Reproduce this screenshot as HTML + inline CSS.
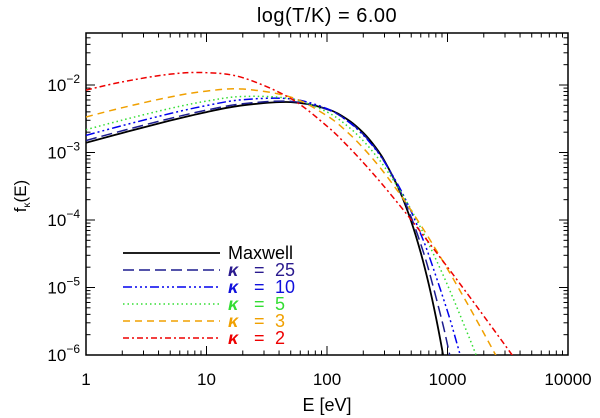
<!DOCTYPE html>
<html><head><meta charset="utf-8"><style>
html,body{margin:0;padding:0;background:#fff;}
svg{display:block;font-family:"Liberation Sans",sans-serif;}
</style></head><body>
<svg id="chart" width="600" height="418" viewBox="0 0 600 418" xmlns="http://www.w3.org/2000/svg">
<text x="327" y="22" font-size="20" text-anchor="middle" letter-spacing="0.5">log(T/K) = 6.00</text>
<text transform="translate(26,196) rotate(-90)" font-size="17" text-anchor="middle">f<tspan font-size="10" dy="4">κ</tspan><tspan dy="-4">(E)</tspan></text>
<text x="327" y="411" font-size="18" text-anchor="middle">E [eV]</text>
<g id="axes"></g>
<g id="series"></g>
<g id="legend"></g>
</svg>
<script>
const xTickLabels = ["1","10","100","1000","10000"];
const yTickExps = [-6,-5,-4,-3,-2];
const energies = {
  maxwell: [1,2,5,10,20,50,100,150,200,250,300,400,500,600,700,800,900,1000],
  k25: [1,2,5,10,20,50,100,150,200,250,300,400,500,600,700,900,1000,1100],
  k10: [1,2,5,10,20,50,100,150,200,250,300,400,500,600,700,1000,1200,1300],
  k5: [1,2,5,10,20,50,100,150,200,250,300,400,500,600,700,1000,1500,1800],
  k3: [1,2,5,10,20,50,100,150,200,250,300,400,500,600,700,1000,1500,2000,2500,3000],
  k2: [1,2,5,10,20,50,100,150,200,250,300,400,500,600,700,1000,1500,2000,3000,4000]
};
const fMaxwell = [1.394e-3,1.948e-3,2.975e-3,3.97e-3,5.0e-3,5.58e-3,4.42e-3,3.03e-3,1.958e-3,1.225e-3,7.51e-4,2.72e-4,9.53e-5,3.27e-5,1.105e-5,3.70e-6,1.235e-6,4.06e-7];
const fK25 = [1.504e-3,2.100e-3,3.196e-3,4.24e-3,5.28e-3,5.72e-3,4.35e-3,2.91e-3,1.861e-3,1.168e-3,7.27e-4,2.81e-4,1.097e-4,4.39e-5,1.791e-5,3.22e-6,1.417e-6,6.38e-7];
const fK10 = [1.795e-3,2.500e-3,3.78e-3,4.96e-3,6.06e-3,6.23e-3,4.46e-3,2.87e-3,1.808e-3,1.139e-3,7.23e-4,3.02e-4,1.331e-4,6.18e-5,3.01e-5,4.44e-6,1.461e-6,8.73e-7];
const fK5 = [2.178e-3,3.019e-3,4.50e-3,5.77e-3,6.76e-3,6.25e-3,3.98e-3,2.415e-3,1.489e-3,9.39e-4,6.11e-4,2.80e-4,1.411e-4,7.62e-5,4.38e-5,1.089e-5,1.889e-6,8.24e-7];
const fK3 = [3.36e-3,4.61e-3,6.65e-3,8.13e-3,8.71e-3,6.62e-3,3.50e-3,1.948e-3,1.163e-3,7.39e-4,4.93e-4,2.465e-4,1.379e-4,8.37e-5,5.41e-5,1.881e-5,5.32e-6,2.106e-6,1.012e-6,5.5e-7];
const fK2 = [8.40e-3,1.111e-2,1.448e-2,1.522e-2,1.283e-2,6.31e-3,2.457e-3,1.225e-3,7.09e-4,4.52e-4,3.09e-4,1.656e-4,1.006e-4,6.62e-5,4.64e-5,2.006e-5,7.59e-6,3.78e-6,1.40e-6,6.89e-7];
const legendLabels = ["Maxwell","25","10","5","3","2"];

const L=86,R=568,T=33,B=355;
const yMin=-6, yMax=-6+(B-T)/67.5;
function xs(e){return L+(Math.log10(e)-0)/4*(R-L);}
function ys(f){return B-(Math.log10(f)-yMin)/(yMax-yMin)*(B-T);}
const NS="http://www.w3.org/2000/svg";
function mk(tag,attrs,parent){const el=document.createElementNS(NS,tag);for(const k in attrs)el.setAttribute(k,attrs[k]);parent.appendChild(el);return el;}
const axes=document.getElementById('axes');
const frame=mk('rect',{x:L,y:T,width:R-L,height:B-T,fill:'none',stroke:'#000','stroke-width':1.5},axes);


for(let d=0;d<4;d++){for(let m=1;m<10;m++){const x=xs(Math.pow(10,d)*m);const len=m===1?9:4.5;
 const t1=mk('line',{x1:x,y1:B,x2:x,y2:B-len,stroke:'#000','stroke-width':1},axes);
 
 
 const t2=mk('line',{x1:x,y1:T,x2:x,y2:T+len,stroke:'#000','stroke-width':1},axes);
 
 }}
xTickLabels.forEach((lab,i)=>{const t=mk('text',{x:xs(Math.pow(10,i)),y:385,'font-size':17,'text-anchor':'middle'},axes);t.textContent=lab;
 
 });
for(let d=-6;d<-1;d++){for(let m=1;m<10;m++){const v=Math.pow(10,d)*m;if(Math.log10(v)>yMax)continue;const y=ys(v);const len=m===1?9:4.5;
 const t1=mk('line',{x1:L,y1:y,x2:L+len,y2:y,stroke:'#000','stroke-width':1},axes);
 
 
 const t2=mk('line',{x1:R,y1:y,x2:R-len,y2:y,stroke:'#000','stroke-width':1},axes);
 
 }}
yTickExps.forEach(ex=>{const y=ys(Math.pow(10,ex));const t=mk('text',{x:80,y:y+6,'font-size':17,'text-anchor':'end'},axes);
 t.innerHTML='10<tspan font-size="12" dy="-8">'+String(ex).replace('-','−')+'</tspan>';
 
 });
const styles=[
 {key:'maxwell',f:fMaxwell,color:'#000',dash:'',w:1.8,name:'series-maxwell'},
 {key:'k25',f:fK25,color:'#1c1c8e',dash:'11 5',w:1.5,name:'series-kappa-25'},
 {key:'k10',f:fK10,color:'#0000ee',dash:'9 3 2 3 2 3 2 3',w:1.5,name:'series-kappa-10'},
 {key:'k5',f:fK5,color:'#33dd33',dash:'1.5 3',w:1.5,name:'series-kappa-5'},
 {key:'k3',f:fK3,color:'#f0a000',dash:'7 5',w:1.5,name:'series-kappa-3'},
 {key:'k2',f:fK2,color:'#ee0000',dash:'6 3 2 3',w:1.5,name:'series-kappa-2'}];
const ser=document.getElementById('series');
const cp=mk('clipPath',{id:'clip'},ser);
mk('rect',{x:L,y:T,width:R-L,height:B-T},cp);
function pathFrom(pts){let d='M'+pts[0][0]+','+pts[0][1];
 for(let i=0;i<pts.length-1;i++){const p0=pts[Math.max(0,i-1)],p1=pts[i],p2=pts[i+1],p3=pts[Math.min(pts.length-1,i+2)];
  const c1=[p1[0]+(p2[0]-p0[0])/6,p1[1]+(p2[1]-p0[1])/6],c2=[p2[0]-(p3[0]-p1[0])/6,p2[1]-(p3[1]-p1[1])/6];
  d+=' C'+c1.join(',')+' '+c2.join(',')+' '+p2.join(',');}return d;}
styles.forEach(s=>{const E=energies[s.key];const pts=E.map((e,i)=>[xs(e),ys(s.f[i])]);
 const p=mk('path',{d:pathFrom(pts),fill:'none',stroke:s.color,'stroke-width':s.w,'stroke-dasharray':s.dash,'clip-path':'url(#clip)'},ser);
 
 });
const leg=document.getElementById('legend');
const txtColors=['#000','#2a1a8e','#1010dd','#33dd33','#f0a000','#ee0000'];
legendLabels.forEach((lab,i)=>{const y=253+i*17;const s=styles[i];
 const ln=mk('line',{x1:123,y1:y,x2:220,y2:y,stroke:s.color,'stroke-width':s.w,'stroke-dasharray':s.dash},leg);
 
 
 const t=mk('text',{x:228,y:y+6,'font-size':18,fill:txtColors[i]},leg);
 if(i===0)t.textContent=lab;else{t.innerHTML='<tspan font-style="italic" font-weight="bold">κ</tspan><tspan x="254">=</tspan><tspan x="275">'+lab+'</tspan>';}
 
 });
</script>
</body></html>
